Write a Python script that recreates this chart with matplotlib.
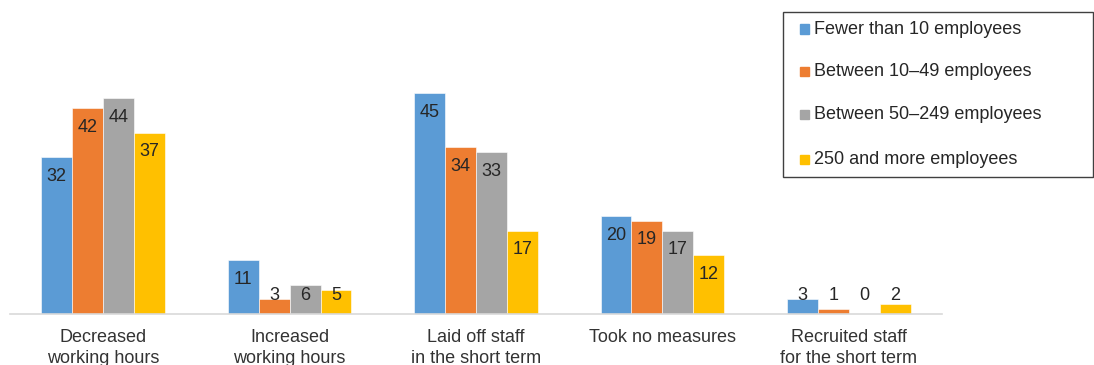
import matplotlib
matplotlib.use("Agg")
import matplotlib.pyplot as plt
from matplotlib.patches import Rectangle
import numpy as np

plt.rcParams['font.family'] = ['Liberation Sans', 'DejaVu Sans']

categories = ["Decreased\nworking hours", "Increased\nworking hours",
              "Laid off staff\nin the short term", "Took no measures",
              "Recruited staff\nfor the short term"]
series_names = ["Fewer than 10 employees", "Between 10\u201349 employees",
                "Between 50\u2013249 employees", "250 and more employees"]
fewer_than_10 = [32, 11, 45, 20, 3]
between_10_49 = [42, 3, 34, 19, 1]
between_50_249 = [44, 6, 33, 17, 0]
over_250 = [37, 5, 17, 12, 2]
series_values = [fewer_than_10, between_10_49, between_50_249, over_250]
colors = ["#5B9BD5", "#ED7D31", "#A5A5A5", "#FFC000"]

W, H = 1094, 365
fig = plt.figure(figsize=(W / 100, H / 100), dpi=100)
ax = fig.add_axes([10 / W, 1 - 314 / H, 932 / W, 294 / H])

x = np.arange(len(categories))
bar_w = 0.166
ax.set_xlim(-0.5, len(categories) - 0.5)
ax.set_ylim(0, 60)

px_per_unit = 294 / 60.0
offset_px = 19

for i, (vals, col) in enumerate(zip(series_values, colors)):
    xs = x + (i - 1.5) * bar_w
    ax.bar(xs, vals, width=bar_w, color=col, edgecolor="white", linewidth=0.4)
    for xi, v in zip(xs, vals):
        # value sits just inside the bar end, or above the baseline for short bars
        if v * px_per_unit - offset_px >= offset_px:
            y = v - offset_px / px_per_unit
        else:
            y = offset_px / px_per_unit
        ax.text(xi, y, str(v), ha="center", va="center", fontsize=13,
                color="#262626")

for s in ["top", "right", "left"]:
    ax.spines[s].set_visible(False)
ax.spines["bottom"].set_color("#d9d9d9")
ax.spines["bottom"].set_linewidth(1.2)
ax.set_yticks([])
ax.set_xticks(x)
ax.set_xticklabels(categories, fontsize=13, color="#333333", linespacing=1.32)
ax.tick_params(axis="x", length=0, pad=11)

# legend box
lx0, ly0, lx1, ly1 = 783, 12, 1093, 177
fig.patches.append(Rectangle((lx0 / W, 1 - ly1 / H), (lx1 - lx0) / W, (ly1 - ly0) / H,
                             transform=fig.transFigure, fill=False,
                             edgecolor="#404040", linewidth=1.0))
entry_y = [29, 71, 115, 159]
for name, col, yy in zip(series_names, colors, entry_y):
    fig.patches.append(Rectangle((800 / W, 1 - (yy + 4.5) / H), 9 / W, 9 / H,
                                 transform=fig.transFigure, color=col))
    fig.text(814 / W, 1 - yy / H, name, ha="left", va="center",
             fontsize=13, color="#262626")

fig.savefig("out.png", dpi=100)
